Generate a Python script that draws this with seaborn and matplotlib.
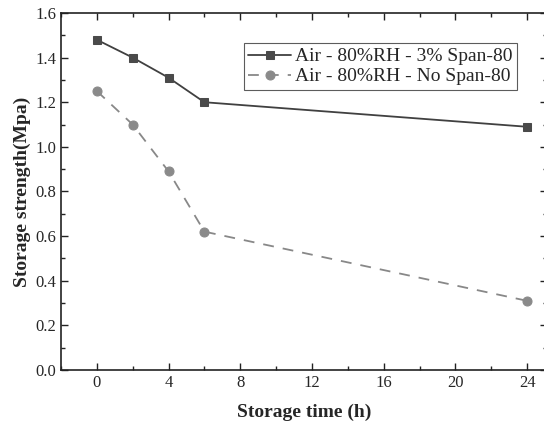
import numpy as np
import pandas as pd
import matplotlib
matplotlib.use("Agg")
import matplotlib.pyplot as plt
import seaborn as sns
from matplotlib.ticker import MultipleLocator

# data
hours = [0, 2, 4, 6, 24]
span80 = [1.48, 1.40, 1.31, 1.20, 1.09]
no_span80 = [1.25, 1.10, 0.89, 0.62, 0.31]
labels = ["Air - 80%RH - 3% Span-80", "Air - 80%RH - No Span-80"]

df = pd.DataFrame({
    "time": hours * 2,
    "strength": span80 + no_span80,
    "series": [labels[0]] * len(hours) + [labels[1]] * len(hours),
})

sns.set_style("ticks")
plt.rcParams["font.family"] = ["Liberation Serif", "DejaVu Serif"]

fig = plt.figure(figsize=(5.44, 4.24), dpi=100)
ax = fig.add_axes([0.1121, 0.1274, 0.8937, 0.842])

sns.lineplot(data=df[df["series"] == labels[0]], x="time", y="strength",
             ax=ax, color="#404040", marker="s", markersize=6,
             markeredgecolor="#4a4a4a", markerfacecolor="#4a4a4a",
             linewidth=1.3, label=labels[0])
sns.lineplot(data=df[df["series"] == labels[1]], x="time", y="strength",
             ax=ax, color="#888888", marker="o", markersize=6.5,
             markeredgecolor="#8a8a8a", markerfacecolor="#8a8a8a",
             linewidth=1.3, linestyle=(0, (6, 5)), label=labels[1])

ax.set_xlim(-2, 25.12)
ax.set_ylim(0, 1.6)
ax.xaxis.set_major_locator(MultipleLocator(4))
ax.xaxis.set_minor_locator(MultipleLocator(2))
ax.yaxis.set_major_locator(MultipleLocator(0.2))
ax.yaxis.set_minor_locator(MultipleLocator(0.1))
ax.yaxis.set_major_formatter(matplotlib.ticker.FormatStrFormatter("%.1f"))

ax.tick_params(which="both", direction="in", top=True, right=True,
               labelsize=12, color="#222222")
ax.tick_params(which="major", length=5, width=1)
ax.tick_params(which="minor", length=3, width=1)
for s in ax.spines.values():
    s.set_linewidth(1.2)
    s.set_color("#222222")

ax.set_xlabel("Storage time (h)", fontsize=14, fontweight="bold", labelpad=9)
ax.set_ylabel("Storage strength(Mpa)", fontsize=14, fontweight="bold", labelpad=3)

leg = ax.legend(loc="upper right", bbox_to_anchor=(0.939, 0.916), fontsize=14,
                frameon=True, fancybox=False, edgecolor="#333333",
                borderpad=0.25, labelspacing=0.12, handlelength=2.2,
                handletextpad=0.2, borderaxespad=0)
leg.get_frame().set_linewidth(0.8)

fig.savefig("out.png", dpi=100)
